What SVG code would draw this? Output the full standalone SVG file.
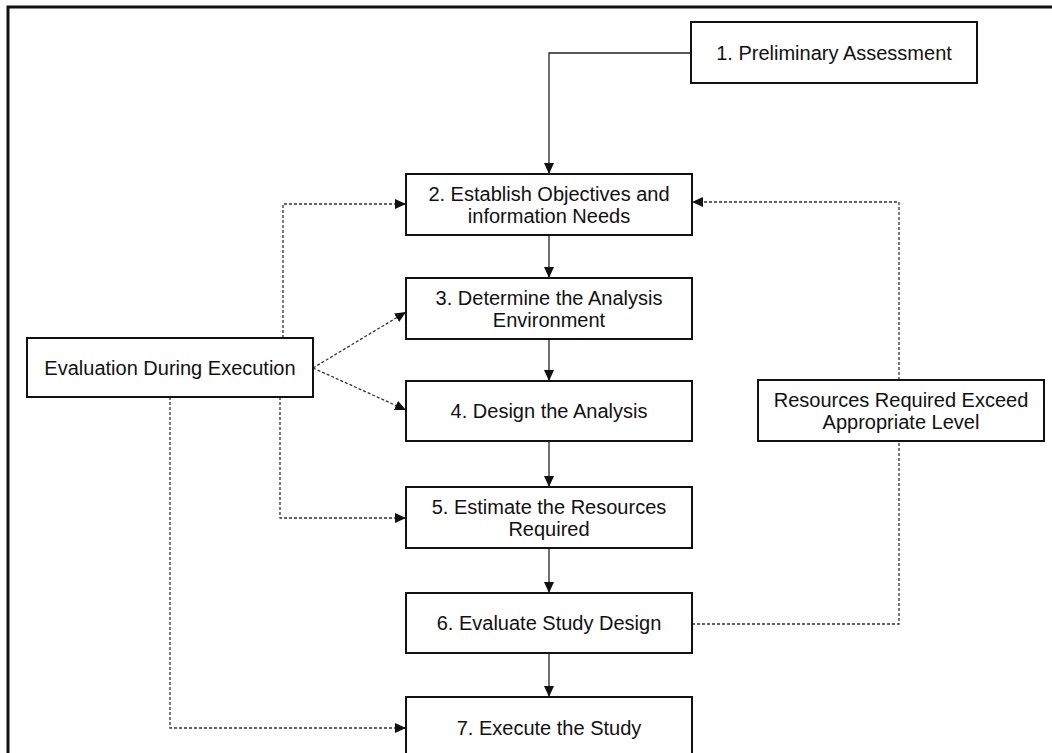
<svg xmlns="http://www.w3.org/2000/svg" width="1052" height="753" viewBox="0 0 1052 753">
<style>
.box{fill:#fff;stroke:#111;stroke-width:2}
.t{font-family:"Liberation Sans",Arial,sans-serif;font-size:20px;fill:#111;text-anchor:middle}
.solid{fill:none;stroke:#222;stroke-width:1.3}
.dash{fill:none;stroke:#333;stroke-width:1.3;stroke-dasharray:3 2}
</style>
<defs>
<marker id="ah" markerUnits="userSpaceOnUse" markerWidth="12" markerHeight="10" refX="11" refY="5" orient="auto" viewBox="0 0 12 10">
<path d="M0,0 L11,5 L0,10 z" fill="#111"/>
</marker>
</defs>
<rect width="1052" height="753" fill="#fff"/>
<path d="M8,760 L8,7 L1060,7" fill="none" stroke="#111" stroke-width="3"/>
<g id="connectors">
<path class="solid" d="M691,53 L549,53 L549,174" marker-end="url(#ah)"/>
<path class="solid" d="M549,235 L549,278" marker-end="url(#ah)"/>
<path class="solid" d="M549,339 L549,381" marker-end="url(#ah)"/>
<path class="solid" d="M549,441 L549,487" marker-end="url(#ah)"/>
<path class="solid" d="M549,548 L549,593" marker-end="url(#ah)"/>
<path class="solid" d="M549,653 L549,697" marker-end="url(#ah)"/>
<path class="dash" d="M283,338 L283,204 L406,204" marker-end="url(#ah)"/>
<path class="dash" d="M313,368 L406,312" marker-end="url(#ah)"/>
<path class="dash" d="M313,368 L406,410" marker-end="url(#ah)"/>
<path class="dash" d="M280,397 L280,518 L406,518" marker-end="url(#ah)"/>
<path class="dash" d="M170,397 L170,728 L406,728" marker-end="url(#ah)"/>
<path class="dash" d="M692,624 L899,624 L899,441"/>
<path class="dash" d="M899,380 L899,202 L692,202" marker-end="url(#ah)"/>
</g>
<g id="n1"><rect class="box" x="691" y="22" width="286" height="61"/><text class="t" x="834" y="59.5">1. Preliminary Assessment</text></g>
<g id="n2"><rect class="box" x="406" y="174" width="286" height="61"/><text class="t" x="549" y="200.5">2. Establish Objectives and</text><text class="t" x="549" y="222.5">information Needs</text></g>
<g id="n3"><rect class="box" x="406" y="278" width="286" height="61"/><text class="t" x="549" y="304.5">3. Determine the Analysis</text><text class="t" x="549" y="326.5">Environment</text></g>
<g id="n4"><rect class="box" x="406" y="381" width="286" height="60"/><text class="t" x="549" y="418">4. Design the Analysis</text></g>
<g id="n5"><rect class="box" x="406" y="487" width="286" height="61"/><text class="t" x="549" y="513.5">5. Estimate the Resources</text><text class="t" x="549" y="535.5">Required</text></g>
<g id="n6"><rect class="box" x="406" y="593" width="286" height="60"/><text class="t" x="549" y="630">6. Evaluate Study Design</text></g>
<g id="n7"><rect class="box" x="406" y="697" width="286" height="61"/><text class="t" x="549" y="735">7. Execute the Study</text></g>
<g id="eval"><rect class="box" x="27" y="338" width="286" height="59"/><text class="t" x="170" y="374.5">Evaluation During Execution</text></g>
<g id="resources"><rect class="box" x="758" y="380" width="286" height="61"/><text class="t" x="901" y="406.5">Resources Required Exceed</text><text class="t" x="901" y="428.5">Appropriate Level</text></g>
</svg>
